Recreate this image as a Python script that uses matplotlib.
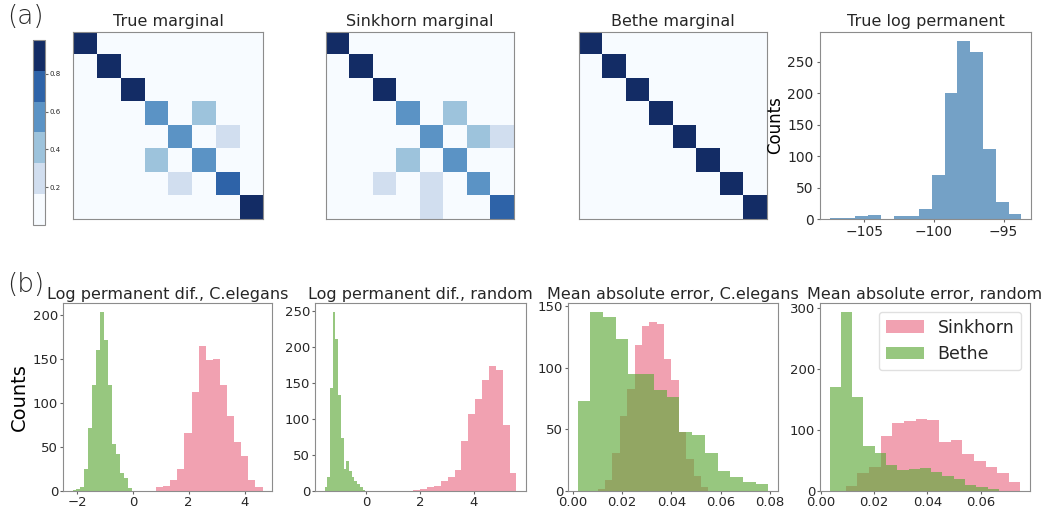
import numpy as np
import matplotlib.pyplot as plt
from matplotlib.colors import ListedColormap
from matplotlib.ticker import MultipleLocator

# ---- data ----
matrix_titles = ['True marginal', 'Sinkhorn marginal', 'Bethe marginal']

true_marginal = [
    [0.98, 0, 0, 0, 0, 0, 0, 0],
    [0, 0.98, 0, 0, 0, 0, 0, 0],
    [0, 0, 0.98, 0, 0, 0, 0, 0],
    [0, 0, 0, 0.60, 0, 0.40, 0, 0],
    [0, 0, 0, 0, 0.60, 0, 0.25, 0],
    [0, 0, 0, 0.40, 0, 0.60, 0, 0],
    [0, 0, 0, 0, 0.25, 0, 0.75, 0],
    [0, 0, 0, 0, 0, 0, 0, 0.98],
]
sinkhorn_marginal = [
    [0.98, 0, 0, 0, 0, 0, 0, 0],
    [0, 0.98, 0, 0, 0, 0, 0, 0],
    [0, 0, 0.98, 0, 0, 0, 0, 0],
    [0, 0, 0, 0.56, 0, 0.40, 0, 0],
    [0, 0, 0, 0, 0.56, 0, 0.40, 0.22],
    [0, 0, 0, 0.40, 0, 0.56, 0, 0],
    [0, 0, 0.22, 0, 0.22, 0, 0.56, 0],
    [0, 0, 0, 0, 0.22, 0, 0, 0.72],
]
bethe_marginal = np.eye(8) * 0.98
cbar_ticks = [0.2, 0.4, 0.6, 0.8]

# true log permanent histogram (15 equal bins between lo and hi)
true_lp_range = (-107.47, -93.72)
true_lp_counts = [2, 1, 4, 6, 0, 4, 4, 16, 70, 200, 283, 265, 112, 27, 8]

bottom_titles = ['Log permanent dif., C.elegans', 'Log permanent dif., random',
                 'Mean absolute error, C.elegans', 'Mean absolute error, random']

sinkhorn_ranges = [(0.83, 4.64), (1.75, 5.60), (0.0101, 0.0550), (0.0094, 0.0750)]
sinkhorn_counts = [
    [4, 6, 13, 25, 66, 112, 164, 148, 150, 120, 85, 55, 40, 12, 4],
    [1, 3, 5, 7, 14, 20, 29, 69, 107, 128, 154, 173, 168, 91, 25],
    [2, 9, 31, 61, 83, 118, 134, 137, 135, 107, 90, 48, 26, 12, 3],
    [8, 29, 40, 90, 112, 115, 119, 117, 81, 83, 60, 49, 40, 29, 15],
]
bethe_ranges = [(-2.16, -0.02), (-1.56, -0.04), (0.0020, 0.0793), (0.0033, 0.0669)]
bethe_counts = [
    [1, 2, 5, 25, 71, 120, 160, 203, 171, 120, 53, 42, 20, 15, 3],
    [5, 20, 142, 248, 210, 133, 73, 30, 41, 28, 20, 14, 10, 5, 1],
    [73, 145, 141, 123, 95, 95, 82, 76, 48, 45, 31, 16, 11, 7, 6],
    [171, 294, 154, 74, 62, 42, 34, 36, 38, 32, 25, 20, 10, 7, 3],
]
y_steps = [50, 50, 50, 100]

# ---- style ----
plt.rcParams['font.family'] = 'DejaVu Sans'
plt.rcParams['text.color'] = '#262626'
plt.rcParams['axes.edgecolor'] = '0.55'
plt.rcParams['xtick.color'] = '0.4'
plt.rcParams['ytick.color'] = '0.4'
plt.rcParams['xtick.labelcolor'] = '#262626'
plt.rcParams['ytick.labelcolor'] = '#262626'

SINK_COLOR = 'crimson'
SINK_ALPHA = 0.4
BETHE_COLOR = '#5fa93a'
BETHE_ALPHA = 0.65

# six-level blue map as it looks in the figure
level_cmap = ListedColormap(['#f7fbff', '#d1deef', '#9dc3dc',
                             '#5b93c5', '#2e63a8', '#132c65'])

W, H = 1043, 511
fig = plt.figure(figsize=(W / 100, H / 100), dpi=100)


def px_axes(x0, y0, x1, y1):
    """Axes placed by pixel box (left, top, right, bottom)."""
    return fig.add_axes([x0 / W, 1 - y1 / H, (x1 - x0) / W, (y1 - y0) / H])


def draw_hist(ax, rng, counts, **kw):
    edges = np.linspace(rng[0], rng[1], len(counts) + 1)
    ax.hist(edges[:-1], bins=edges, weights=counts, **kw)


# ---- (a) marginals ----
mat_boxes = [(73, 32, 263, 219), (326, 32, 514, 219), (579, 32, 767, 219)]
mats = [true_marginal, sinkhorn_marginal, bethe_marginal]
im = None
for box, m, title in zip(mat_boxes, mats, matrix_titles):
    ax = px_axes(*box)
    im = ax.imshow(np.array(m), cmap=level_cmap, vmin=0, vmax=0.98,
                   interpolation='nearest', aspect='auto')
    ax.set_xticks([])
    ax.set_yticks([])
    ax.set_title(title, fontsize=11.5, pad=4)

cax = px_axes(33, 40, 45, 225)
cb = fig.colorbar(im, cax=cax, ticks=cbar_ticks)
cb.outline.set_edgecolor('0.55')
cax.tick_params(labelsize=5, length=2, pad=1)

ax = px_axes(820, 32, 1031, 219)
draw_hist(ax, true_lp_range, true_lp_counts, color='steelblue', alpha=0.75)
ax.set_title('True log permanent', fontsize=11.5, pad=4)
ax.set_ylabel('Counts', fontsize=12, labelpad=2)
ax.tick_params(labelsize=10, length=2.5, pad=2)

fig.text(7 / W, 1 - 17 / H, '(a)', fontsize=19, fontweight='light',
         ha='left', va='center')
fig.text(7 / W, 1 - 284 / H, '(b)', fontsize=19, fontweight='light',
         ha='left', va='center')

# ---- (b) error histograms ----
bottom_boxes = [(63, 303, 272, 491), (315, 303, 526, 491),
                (568, 303, 778, 491), (820, 303, 1030, 491)]
for i, box in enumerate(bottom_boxes):
    ax = px_axes(*box)
    draw_hist(ax, sinkhorn_ranges[i], sinkhorn_counts[i],
              color=SINK_COLOR, alpha=SINK_ALPHA, label='Sinkhorn')
    draw_hist(ax, bethe_ranges[i], bethe_counts[i],
              color=BETHE_COLOR, alpha=BETHE_ALPHA, label='Bethe')
    ax.set_title(bottom_titles[i], fontsize=11.5, pad=3)
    ax.yaxis.set_major_locator(MultipleLocator(y_steps[i]))
    ax.tick_params(labelsize=9.5, length=2, pad=1.5)
    if i == 0:
        ax.set_ylabel('Counts', fontsize=14, labelpad=3)
    if i == 3:
        leg = ax.legend(loc='upper right', fontsize=12.5, handlelength=2.2)
        leg.get_frame().set_edgecolor('0.85')

fig.savefig('out.png', dpi=100)
